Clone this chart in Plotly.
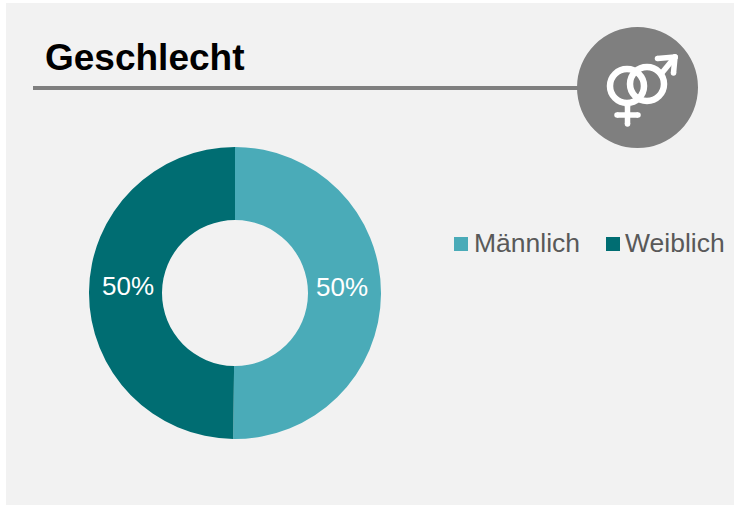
import plotly.graph_objects as go

W, H = 734, 506

# Data
categories = ["Männlich", "Weiblich"]
values = [50.2, 49.8]
colors = ["#4AABB8", "#006D72"]
title_text = "Geschlecht"

FONT = "Liberation Sans, Arial, sans-serif"
GRAY = "#7F7F7F"
PCT = "<span style='font-size:26px'>%{percent:.0%}</span>"
PAD = "<span style='font-size:18px'>\u00a0</span>"
LABELS = [PCT + PAD + "<br> ", PAD + PCT + "<br> "]


def px(x):
    return x / W


def py(y):
    return 1 - y / H


def rect(x0, y0, x1, y1, fill, layer="below"):
    return dict(type="rect", xref="paper", yref="paper", x0=px(x0), x1=px(x1),
                y0=py(y0), y1=py(y1), fillcolor=fill, line_width=0, layer=layer)


def ring(cx, cy, r, color, width=0, fill=None):
    return dict(type="circle", xref="paper", yref="paper",
                x0=px(cx - r), x1=px(cx + r), y0=py(cy - r), y1=py(cy + r),
                fillcolor=fill or "rgba(0,0,0,0)",
                line=dict(color=color, width=width), layer="above")


def stroke(x0, y0, x1, y1, width=5.5, color="white"):
    out = [dict(type="line", xref="paper", yref="paper", x0=px(x0), x1=px(x1),
                y0=py(y0), y1=py(y1), line=dict(color=color, width=width), layer="above")]
    for x, y in ((x0, y0), (x1, y1)):
        out.append(ring(x, y, width / 2, color, 0, color))
    return out


def text(s, x, y, size, color):
    return dict(text=s, xref="paper", yref="paper", x=px(x), y=py(y),
                xanchor="left", yanchor="middle", showarrow=False,
                font=dict(family=FONT, size=size, color=color))


shapes = [
    rect(6, 3, 734, 505, "#F2F2F2"),
    rect(33, 86, 590, 90, GRAY),
    ring(637.5, 87.5, 60.5, GRAY, 0, GRAY),
    ring(627, 86, 17, "white", 6.5),
    ring(647, 84, 17, "white", 6.5),
]
shapes += stroke(661, 74, 675, 57)
shapes += stroke(657.5, 58.5, 675, 57)
shapes += stroke(675, 57, 673.5, 73)
shapes += stroke(627.5, 106, 627.5, 124)
shapes += stroke(617, 115, 638, 115)

legend_swatch_x = [454, 606]
legend_text_x = [472, 623]
annotations = [text(f"<b>{title_text}</b>", 43, 57, 37, "black")]
for name, color, sx, tx in zip(categories, colors, legend_swatch_x, legend_text_x):
    shapes.append(rect(sx, 237, sx + 14, 251, color, layer="above"))
    annotations.append(text(name, tx, 243, 26.5, "#595959"))

fig = go.Figure(go.Pie(
    labels=categories,
    values=values,
    hole=0.5,
    sort=False,
    direction="clockwise",
    rotation=0,
    marker=dict(colors=colors, line=dict(width=0)),
    texttemplate=LABELS,
    textposition="inside",
    insidetextorientation="horizontal",
    textfont=dict(family=FONT, size=12, color="white"),
    domain=dict(x=[px(89), px(381)], y=[py(439), py(147)]),
))

fig.update_layout(
    width=W, height=H,
    autosize=False,
    showlegend=False,
    margin=dict(l=0, r=0, t=0, b=0),
    paper_bgcolor="white",
    plot_bgcolor="white",
    shapes=shapes,
    annotations=annotations,
)

fig.write_html(
    "out.html",
    config={"responsive": False, "displayModeBar": False},
    default_width="734px",
    default_height="506px",
    post_script="document.body.style.margin='0';document.body.style.overflow='hidden';",
)
